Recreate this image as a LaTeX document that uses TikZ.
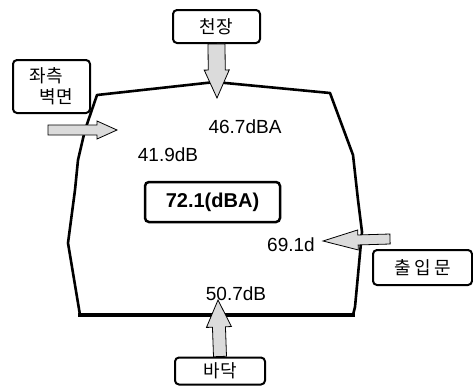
\documentclass[tikz,border=0pt]{standalone}
\usepackage{fontspec}
\setmainfont{Liberation Sans}
\newfontfamily\kr{Noto Sans CJK KR}
\newfontfamily\krsp[LetterSpace=18]{Noto Sans CJK KR}
\usetikzlibrary{calc}

% block arrow: tail, tip, shaft half width, head half width, head length
\newcommand{\blockarrow}[5]{%
  \filldraw[barrow] ($(#1)!#3!90:(#2)$) -- ($(#2)!#5!(#1)!#3!-90:(#1)$)
    -- ($(#2)!#5!(#1)!#4!-90:(#1)$) -- (#2) -- ($(#2)!#5!(#1)!#4!90:(#1)$)
    -- ($(#2)!#5!(#1)!#3!90:(#1)$) -- ($(#1)!#3!-90:(#2)$) -- cycle;}

\begin{document}
\begin{tikzpicture}[
    x=1pt, y=-1pt,
    box/.style={draw, line width=2pt, rounded corners=4pt, fill=white, inner sep=0pt, align=center, font=\kr\fontsize{18}{21}\selectfont},
    total/.style={box, line width=2.5pt, font=\bfseries\fontsize{20}{24}\selectfont},
    val/.style={font=\fontsize{19}{22}\selectfont, inner sep=0pt},
    wall/.style={line width=2.6pt, line join=round},
    barrow/.style={draw, line width=0.8pt, fill=black!14, line join=miter},
]
\useasboundingbox (0,0) rectangle (473,389);

% Room outline
\draw[wall] (80,315) -- (68,243) -- (75,190) -- (78,160) -- (85,130) -- (97,95)
  -- (215,82) -- (330,93) -- (353,155) -- (358,200) -- (362,232) -- (355,307) -- (353,315);
\draw[line width=4.5pt] (78,315) -- (355,315);

% Boxes
\node[box, minimum width=87, minimum height=33] (ceil) at (216.5,26.5) {천장};
\node[box, minimum width=77, minimum height=53, align=left] (lwall) at (51.5,86.5) {좌측\\\hspace*{0.55em}벽면};
\node[total, minimum width=135, minimum height=40] (total) at (212.5,202) {72.1(dBA)};
\node[box, minimum width=99, minimum height=35, font=\krsp\fontsize{18}{21}\selectfont] (door) at (422.5,267.5) {출입문};
\node[box, minimum width=90, minimum height=27] (floor) at (220,371) {바닥};

% Values
\node[val] (vceil) at (245,127) {46.7dBA};
\node[val] (vlwall) at (168,155) {41.9dB};
\node[val] (vdoor) at (291,245) {69.1d};
\node[val] (vfloor) at (236,294) {50.7dB};

% Arrows
\coordinate (ceiltip) at (217,98);
\coordinate (lwalltail) at (48,130);
\coordinate (lwalltip) at (117,130);
\coordinate (doortail) at (390,239);
\coordinate (doortip) at (323,241);
\coordinate (floortip) at (218,300);
\blockarrow{ceil.south}{ceiltip}{8.5pt}{12.5pt}{28pt}
\blockarrow{lwalltail}{lwalltip}{5pt}{9pt}{20pt}
\blockarrow{doortail}{doortip}{5pt}{10pt}{35pt}
\blockarrow{floor.north}{floortip}{6.5pt}{12.5pt}{27pt}

\end{tikzpicture}
\end{document}
